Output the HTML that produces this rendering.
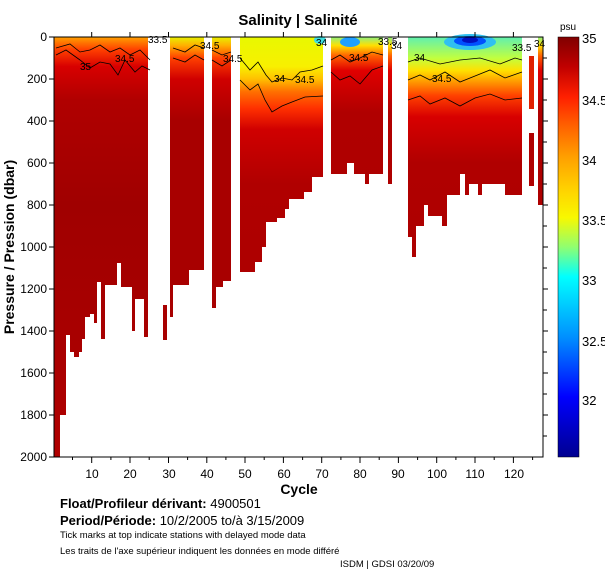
<!DOCTYPE html>
<html><head><meta charset="utf-8"><style>
body{margin:0;background:#fff;width:605px;height:576px;overflow:hidden}
svg text{font-family:"Liberation Sans",sans-serif}
</style></head><body>
<svg width="605" height="576" xmlns="http://www.w3.org/2000/svg">
<defs>
<linearGradient id="g1" gradientUnits="userSpaceOnUse" x1="0" y1="37" x2="0" y2="457">
<stop offset="0" stop-color="#ffa000"/><stop offset="0.03" stop-color="#ff4000"/><stop offset="0.07" stop-color="#d80000"/><stop offset="0.15" stop-color="#b00000"/><stop offset="0.4" stop-color="#a00000"/><stop offset="1" stop-color="#b00000"/></linearGradient>
<linearGradient id="g2" gradientUnits="userSpaceOnUse" x1="0" y1="37" x2="0" y2="457">
<stop offset="0" stop-color="#e8f000"/><stop offset="0.02" stop-color="#ffb000"/><stop offset="0.05" stop-color="#ff4000"/><stop offset="0.1" stop-color="#d00000"/><stop offset="0.2" stop-color="#a80000"/><stop offset="1" stop-color="#a80000"/></linearGradient>
<linearGradient id="g3" gradientUnits="userSpaceOnUse" x1="0" y1="37" x2="0" y2="457">
<stop offset="0" stop-color="#e8f800"/><stop offset="0.07" stop-color="#f8f000"/><stop offset="0.1" stop-color="#ffc000"/><stop offset="0.13" stop-color="#ff7000"/><stop offset="0.17" stop-color="#ff3000"/><stop offset="0.22" stop-color="#d00000"/><stop offset="0.35" stop-color="#b00000"/><stop offset="1" stop-color="#a80000"/></linearGradient>
<linearGradient id="g4" gradientUnits="userSpaceOnUse" x1="0" y1="37" x2="0" y2="457">
<stop offset="0" stop-color="#90f080"/><stop offset="0.02" stop-color="#ffe000"/><stop offset="0.045" stop-color="#ff6000"/><stop offset="0.08" stop-color="#e00000"/><stop offset="0.18" stop-color="#b00000"/><stop offset="1" stop-color="#a80000"/></linearGradient>
<linearGradient id="g5" gradientUnits="userSpaceOnUse" x1="0" y1="37" x2="0" y2="457">
<stop offset="0" stop-color="#60f0b0"/><stop offset="0.05" stop-color="#c0ff40"/><stop offset="0.08" stop-color="#ffe000"/><stop offset="0.11" stop-color="#ff9000"/><stop offset="0.14" stop-color="#ff4000"/><stop offset="0.19" stop-color="#d80000"/><stop offset="0.3" stop-color="#b00000"/><stop offset="1" stop-color="#a80000"/></linearGradient>
<linearGradient id="cb" x1="0" y1="0" x2="0" y2="1">
<stop offset="0" stop-color="#800000"/><stop offset="0.07" stop-color="#c00000"/><stop offset="0.143" stop-color="#ff2000"/><stop offset="0.21" stop-color="#ff6000"/><stop offset="0.286" stop-color="#ffa000"/><stop offset="0.36" stop-color="#ffd000"/><stop offset="0.43" stop-color="#f8f800"/><stop offset="0.5" stop-color="#90ff70"/><stop offset="0.571" stop-color="#00ffff"/><stop offset="0.714" stop-color="#0090ff"/><stop offset="0.857" stop-color="#0000ff"/><stop offset="1" stop-color="#000090"/></linearGradient>
</defs>
<text x="298" y="25" font-size="15" font-weight="bold" text-anchor="middle">Salinity | Salinité</text>
<g fill="url(#g1)">
<rect x="54" y="37" width="6" height="420"/><rect x="60" y="37" width="6" height="378"/>
<rect x="66" y="37" width="4" height="298"/><rect x="70" y="37" width="4" height="315"/>
<rect x="74" y="37" width="5" height="320"/><rect x="79" y="37" width="3" height="315"/>
<rect x="82" y="37" width="3" height="302"/><rect x="85" y="37" width="5" height="280"/>
<rect x="90" y="37" width="4" height="277"/><rect x="94" y="37" width="3" height="286"/>
<rect x="97" y="37" width="4" height="245"/><rect x="101" y="37" width="4" height="302"/>
<rect x="105" y="37" width="12" height="248"/><rect x="117" y="37" width="4" height="226"/>
<rect x="121" y="37" width="11" height="250"/><rect x="132" y="37" width="3" height="294"/>
<rect x="135" y="37" width="9" height="262"/><rect x="144" y="37" width="4" height="300"/>
</g>
<g fill="url(#g2)">
<rect x="163" y="305" width="4" height="35"/><rect x="170" y="37" width="3" height="280"/>
<rect x="173" y="37" width="16" height="248"/><rect x="189" y="37" width="15" height="233"/>
<rect x="212" y="37" width="4" height="271"/><rect x="216" y="37" width="7" height="250"/><rect x="223" y="37" width="8" height="244"/>
</g>
<g fill="url(#g3)">
<rect x="240" y="37" width="15" height="235"/><rect x="255" y="37" width="7" height="225"/>
<rect x="262" y="37" width="4" height="210"/><rect x="266" y="37" width="11" height="185"/>
<rect x="277" y="37" width="8" height="181"/><rect x="285" y="37" width="4" height="172"/>
<rect x="289" y="37" width="15" height="162"/><rect x="304" y="37" width="8" height="155"/>
<rect x="312" y="37" width="11" height="140"/>
</g>
<g fill="url(#g4)">
<rect x="331" y="37" width="16" height="137"/><rect x="347" y="37" width="7" height="126"/>
<rect x="354" y="37" width="11" height="137"/><rect x="365" y="37" width="4" height="147"/>
<rect x="369" y="37" width="14" height="137"/><rect x="388" y="37" width="4" height="147"/>
</g>
<g fill="url(#g5)">
<rect x="408" y="37" width="4" height="200"/><rect x="412" y="37" width="4" height="220"/>
<rect x="416" y="37" width="8" height="189"/><rect x="424" y="37" width="4" height="168"/>
<rect x="428" y="37" width="14" height="179"/><rect x="442" y="37" width="5" height="189"/>
<rect x="447" y="37" width="13" height="158"/><rect x="460" y="37" width="5" height="137"/>
<rect x="465" y="37" width="4" height="158"/><rect x="469" y="37" width="9" height="147"/>
<rect x="478" y="37" width="4" height="158"/><rect x="482" y="37" width="23" height="147"/>
<rect x="505" y="37" width="17" height="158"/>
</g>
<rect x="529" y="56" width="5" height="53" fill="#e02000"/><rect x="529" y="133" width="5" height="53" fill="#b00000"/>
<rect x="538" y="37" width="5" height="168" fill="url(#g4)"/>
<ellipse cx="470" cy="42" rx="26" ry="8" fill="#30c0f0"/>
<ellipse cx="470" cy="41" rx="16" ry="5" fill="#0050ff"/>
<ellipse cx="470" cy="40" rx="8" ry="3" fill="#0010c0"/>
<ellipse cx="350" cy="42" rx="10" ry="5" fill="#20a0ff"/>
<ellipse cx="320" cy="40" rx="6" ry="4" fill="#40e0e0"/>
<g fill="none" stroke="#000" stroke-width="0.8">
<path d="M56 48 L70 44 L80 52 L90 50 L100 45 L110 52 L120 48 L130 55 L140 50 L150 60"/>
<path d="M56 55 L66 50 L80 60 L90 68 L100 62 L110 64 L118 75 L125 60 L135 72 L142 66 L150 70"/>
<path d="M173 48 L185 52 L195 45 L204 48 M212 50 L222 55 L231 52"/>
<path d="M173 58 L185 62 L195 55 L204 60 M212 60 L222 66 L231 60"/>
<path d="M240 58 L250 70 L258 62 L266 75 L272 82 L282 78 L292 80 L300 72 L312 70 L323 66"/>
<path d="M240 80 L250 90 L258 84 L265 100 L272 112 L282 106 L292 102 L305 97 L323 96"/>
<path d="M331 60 L340 55 L350 62 L360 58 L372 52 L383 55"/>
<path d="M331 72 L340 80 L350 76 L360 84 L372 70 L383 66"/>
<path d="M408 62 L420 58 L440 64 L460 60 L480 58 L500 64 L515 58 L522 60"/>
<path d="M408 80 L420 75 L430 80 L445 72 L460 82 L475 76 L490 70 L505 78 L522 72"/>
<path d="M408 100 L420 96 L430 104 L445 98 L460 106 L475 98 L490 94 L505 100 L522 98"/>
</g>
<g font-size="10">
<text x="80" y="70">35</text><text x="115" y="62">34.5</text><text x="148" y="43">33.5</text>
<text x="200" y="49">34.5</text><text x="223" y="62">34.5</text><text x="274" y="82">34</text><text x="295" y="83">34.5</text>
<text x="316" y="46">34</text><text x="349" y="61">34.5</text><text x="378" y="45">33.5</text><text x="391" y="49">34</text>
<text x="414" y="61">34</text><text x="432" y="82">34.5</text><text x="512" y="51">33.5</text><text x="534" y="47">34</text>
</g>
<g stroke="#000" stroke-width="1" fill="none">
<path d="M54 37 V457 H543 V37 H54"/>
<path d="M54 37 h-5 M54 79 h-5 M54 121 h-5 M54 163 h-5 M54 205 h-5 M54 247 h-5 M54 289 h-5 M54 331 h-5 M54 373 h-5 M54 415 h-5 M54 457 h-5"/>
<path d="M543 58 h4 M543 79 h5 M543 100 h4 M543 121 h5 M543 142 h4 M543 163 h5 M543 184 h4 M543 205 h5 M543 226 h4 M543 247 h5 M543 268 h4 M543 289 h5 M543 310 h4 M543 331 h5 M543 352 h4 M543 373 h5 M543 394 h4 M543 415 h5 M543 436 h4"/>
<path d="M91.7 457 v6 M130 457 v6 M168.5 457 v6 M206.8 457 v6 M245 457 v6 M283.4 457 v6 M321.7 457 v6 M360 457 v6 M398.4 457 v6 M436.7 457 v6 M475 457 v6 M513.4 457 v6"/>
<path d="M72.5 457 v3 M110.9 457 v3 M149.2 457 v3 M187.6 457 v3 M225.9 457 v3 M264.2 457 v3 M302.6 457 v3 M340.9 457 v3 M379.2 457 v3 M417.6 457 v3 M455.9 457 v3 M494.2 457 v3 M532.6 457 v3"/>
<path d="M91.7 37 v-5 M130 37 v-5 M168.5 37 v-5 M206.8 37 v-5 M245 37 v-5 M283.4 37 v-5 M321.7 37 v-5 M360 37 v-5 M398.4 37 v-5 M436.7 37 v-5 M475 37 v-5 M513.4 37 v-5"/>
</g>
<g font-size="12" text-anchor="end">
<text x="47" y="41">0</text><text x="47" y="83">200</text><text x="47" y="125">400</text><text x="47" y="167">600</text><text x="47" y="209">800</text><text x="47" y="251">1000</text><text x="47" y="293">1200</text><text x="47" y="335">1400</text><text x="47" y="377">1600</text><text x="47" y="419">1800</text><text x="47" y="461">2000</text>
</g>
<g font-size="12" text-anchor="middle">
<text x="92" y="478">10</text><text x="130" y="478">20</text><text x="169" y="478">30</text><text x="207" y="478">40</text><text x="245" y="478">50</text><text x="284" y="478">60</text><text x="322" y="478">70</text><text x="360" y="478">80</text><text x="398" y="478">90</text><text x="437" y="478">100</text><text x="475" y="478">110</text><text x="514" y="478">120</text>
</g>
<text x="299" y="494" font-size="14" font-weight="bold" text-anchor="middle">Cycle</text>
<text transform="translate(14,247) rotate(-90)" font-size="14" font-weight="bold" text-anchor="middle">Pressure / Pression (dbar)</text>
<rect x="558" y="37" width="21" height="420" fill="url(#cb)" stroke="#000" stroke-width="0.5"/>
<text x="560" y="30" font-size="10">psu</text>
<g font-size="13">
<text x="582" y="43">35</text><text x="582" y="105">34.5</text><text x="582" y="165">34</text><text x="582" y="225">33.5</text><text x="582" y="285">33</text><text x="582" y="346">32.5</text><text x="582" y="405">32</text>
</g>
<text x="60" y="508" font-size="13"><tspan font-weight="bold">Float/Profileur dérivant:</tspan> 4900501</text>
<text x="60" y="525" font-size="13"><tspan font-weight="bold">Period/Période:</tspan>  10/2/2005  to/à  3/15/2009</text>
<text x="60" y="538" font-size="9.5">Tick marks at top indicate stations with delayed mode data</text>
<text x="60" y="554" font-size="9.5">Les traits de l'axe supérieur indiquent les données en mode différé</text>
<text x="340" y="567" font-size="9.5">ISDM | GDSI 03/20/09</text>
</svg>
</body></html>
